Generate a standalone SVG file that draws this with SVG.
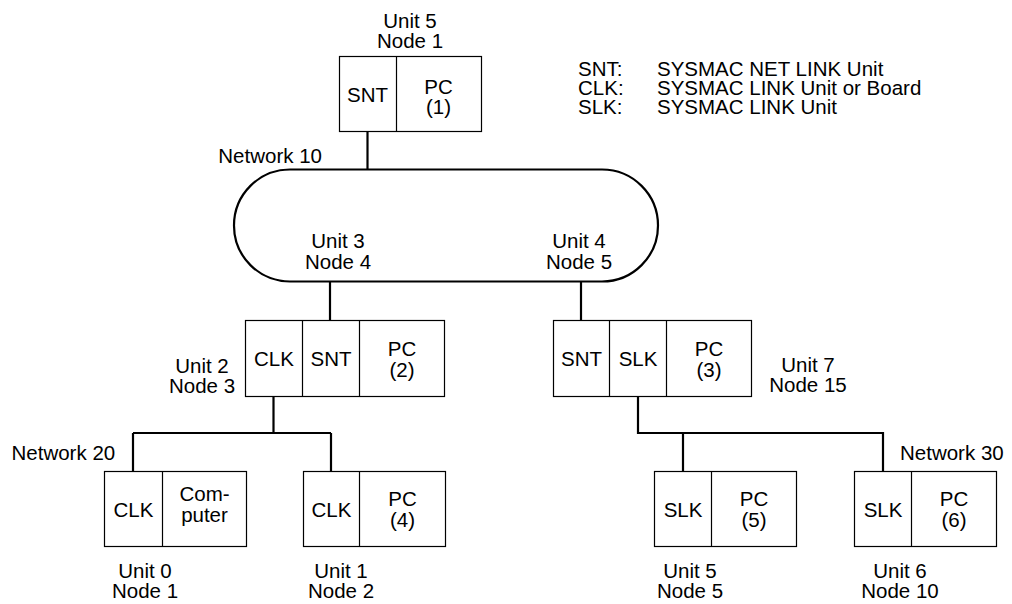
<svg xmlns="http://www.w3.org/2000/svg" width="1012" height="604" viewBox="0 0 1012 604">
<style>
text{font-family:"Liberation Sans",Arial,sans-serif;font-size:20.5px;fill:#000}
.c{text-anchor:middle}
.e{text-anchor:end}
.box{fill:#fff;stroke:#000;stroke-width:1.2}
.div{stroke:#000;stroke-width:1.2;fill:none}
.wire{stroke:#000;stroke-width:2.2;fill:none}
</style>
<rect width="1012" height="604" fill="#fff"/>
<g id="connectors">
<path class="wire" d="M367.5,131 V170"/>
<path class="wire" d="M330,281 V320"/>
<path class="wire" d="M581,281 V320"/>
<path class="wire" d="M273.5,396 V433 M133,433 H331 M133,433 V471 M331,433 V471"/>
<path class="wire" d="M638,396 V433 H883 V471 M683,433 V471"/>
</g>
<g id="network10">
<rect x="234" y="169.5" width="424" height="112" rx="56" ry="56" fill="none" stroke="#000" stroke-width="2.2"/>
<text class="e" x="322" y="163">Network 10</text>
</g>
<g id="legend">
<text x="578" y="76">SNT:</text><text x="657" y="76">SYSMAC NET LINK Unit</text>
<text x="578" y="95">CLK:</text><text x="657" y="95">SYSMAC LINK Unit or Board</text>
<text x="578" y="114">SLK:</text><text x="657" y="114">SYSMAC LINK Unit</text>
</g>
<g id="pc1">
<rect class="box" x="339.5" y="56.5" width="142" height="75"/>
<path class="div" d="M396.5,56.5 V131.5"/>
<text class="c" x="367.5" y="102">SNT</text>
<text class="c" x="438.5" y="94">PC</text>
<text class="c" x="438.5" y="114">(1)</text>
<text class="c" x="410" y="28">Unit 5</text>
<text class="c" x="410" y="48">Node 1</text>
</g>
<g id="pc2">
<rect class="box" x="245.5" y="320.5" width="199" height="76"/>
<path class="div" d="M302.5,320.5 V396.5 M359.5,320.5 V396.5"/>
<text class="c" x="274" y="366">CLK</text>
<text class="c" x="331" y="366">SNT</text>
<text class="c" x="402" y="356">PC</text>
<text class="c" x="402" y="377">(2)</text>
<text class="c" x="338" y="248">Unit 3</text>
<text class="c" x="338" y="269">Node 4</text>
<text class="c" x="202" y="373">Unit 2</text>
<text class="c" x="202" y="393">Node 3</text>
</g>
<g id="pc3">
<rect class="box" x="553.5" y="320.5" width="198" height="76"/>
<path class="div" d="M609.5,320.5 V396.5 M666.5,320.5 V396.5"/>
<text class="c" x="581.5" y="366">SNT</text>
<text class="c" x="638" y="366">SLK</text>
<text class="c" x="709" y="356">PC</text>
<text class="c" x="709" y="377">(3)</text>
<text class="c" x="579" y="248">Unit 4</text>
<text class="c" x="579" y="269">Node 5</text>
<text class="c" x="808" y="372">Unit 7</text>
<text class="c" x="808" y="392">Node 15</text>
</g>
<g id="computer">
<rect class="box" x="104.5" y="471.5" width="142" height="75"/>
<path class="div" d="M162.5,471.5 V546.5"/>
<text class="c" x="133.5" y="517">CLK</text>
<text class="c" x="204.5" y="501">Com-</text>
<text class="c" x="204.5" y="522">puter</text>
<text x="11.5" y="460">Network 20</text>
<text class="c" x="145" y="578">Unit 0</text>
<text class="c" x="145" y="598">Node 1</text>
</g>
<g id="pc4">
<rect class="box" x="303.5" y="471.5" width="142" height="75"/>
<path class="div" d="M359.5,471.5 V546.5"/>
<text class="c" x="331.5" y="517">CLK</text>
<text class="c" x="402.5" y="506">PC</text>
<text class="c" x="402.5" y="527">(4)</text>
<text class="c" x="341" y="578">Unit 1</text>
<text class="c" x="341" y="598">Node 2</text>
</g>
<g id="pc5">
<rect class="box" x="654.5" y="471.5" width="142" height="75"/>
<path class="div" d="M711.5,471.5 V546.5"/>
<text class="c" x="683" y="517">SLK</text>
<text class="c" x="754" y="506">PC</text>
<text class="c" x="754" y="527">(5)</text>
<text class="c" x="690" y="578">Unit 5</text>
<text class="c" x="690" y="598">Node 5</text>
</g>
<g id="pc6">
<rect class="box" x="854.5" y="471.5" width="142" height="75"/>
<path class="div" d="M911.5,471.5 V546.5"/>
<text class="c" x="883" y="517">SLK</text>
<text class="c" x="954" y="506">PC</text>
<text class="c" x="954" y="527">(6)</text>
<text x="900" y="460">Network 30</text>
<text class="c" x="900" y="578">Unit 6</text>
<text class="c" x="900" y="598">Node 10</text>
</g>
</svg>
